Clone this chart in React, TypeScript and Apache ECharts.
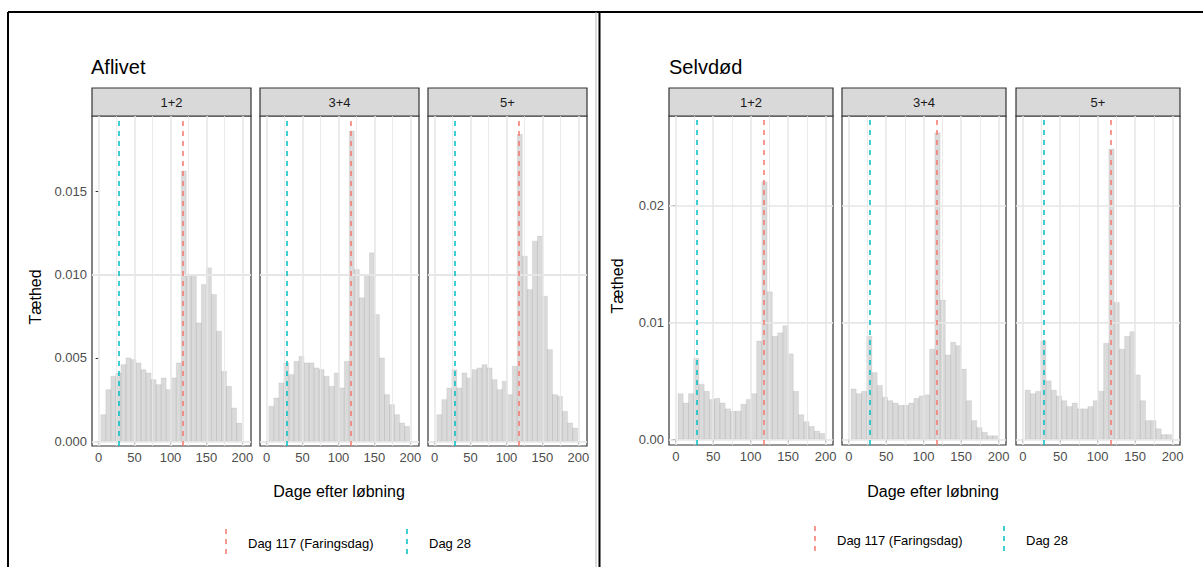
import { useRef, useEffect } from 'react'
import * as echarts from 'echarts'

// ── data ─────────────────────────────────────────
const BIN_START = 3
const BIN_WIDTH = 7
const FACETS = ['1+2', '3+4', '5+']

const aflivet12 = [0.0016, 0.0031, 0.0039, 0.0041, 0.0046, 0.0050, 0.0049, 0.0047, 0.0043, 0.0041, 0.0037, 0.0034, 0.0038, 0.0031, 0.0038, 0.0047, 0.0162, 0.0100, 0.0100, 0.0071, 0.0094, 0.0104, 0.0088, 0.0066, 0.0042, 0.0033, 0.0020, 0.0011]
const aflivet34 = [0.0021, 0.0026, 0.0035, 0.0047, 0.0040, 0.0048, 0.0051, 0.0047, 0.0047, 0.0044, 0.0043, 0.0039, 0.0033, 0.0041, 0.0032, 0.0048, 0.0186, 0.0103, 0.0086, 0.0100, 0.0113, 0.0076, 0.0050, 0.0028, 0.0022, 0.0016, 0.0011, 0.0009]
const aflivet5 = [0.0016, 0.0025, 0.0032, 0.0043, 0.0032, 0.0041, 0.0038, 0.0043, 0.0044, 0.0046, 0.0044, 0.0037, 0.0031, 0.0036, 0.0028, 0.0045, 0.0184, 0.0111, 0.0091, 0.0120, 0.0123, 0.0087, 0.0055, 0.0028, 0.0027, 0.0018, 0.0011, 0.0008]
const selvdod12 = [0.0039, 0.0031, 0.0039, 0.0069, 0.0047, 0.0041, 0.0034, 0.0035, 0.0031, 0.0026, 0.0024, 0.0024, 0.0030, 0.0034, 0.0039, 0.0084, 0.0220, 0.0126, 0.0088, 0.0091, 0.0097, 0.0073, 0.0041, 0.0021, 0.0015, 0.0011, 0.0007, 0.0005]
const selvdod34 = [0.0043, 0.0039, 0.0041, 0.0088, 0.0057, 0.0046, 0.0036, 0.0033, 0.0031, 0.0029, 0.0029, 0.0031, 0.0035, 0.0037, 0.0038, 0.0077, 0.0262, 0.0119, 0.0072, 0.0083, 0.0080, 0.0060, 0.0033, 0.0016, 0.0010, 0.0006, 0.0003, 0.0003]
const selvdod5 = [0.0042, 0.0039, 0.0041, 0.0084, 0.0050, 0.0042, 0.0037, 0.0033, 0.0028, 0.0031, 0.0026, 0.0026, 0.0028, 0.0033, 0.0041, 0.0082, 0.0248, 0.0117, 0.0077, 0.0088, 0.0092, 0.0055, 0.0033, 0.0016, 0.0016, 0.0009, 0.0004, 0.0004]

const xTicks = [0, 50, 100, 150, 200]
const xMinor = [25, 75, 125, 175]
const aflivetYTicks = [0, 0.005, 0.01, 0.015]
const aflivetYMinor = [0.0025, 0.0075, 0.0125, 0.0175]
const selvdodYTicks = [0, 0.01, 0.02]
const selvdodYMinor = [0.005, 0.015, 0.025]

const DAY_FARING = 117
const DAY_28 = 28

const RED = '#F8766D'
const CYAN = '#00BFC4'

// ── layout per half ──────────────────────────────
const PANELS = [
  {
    title: 'Aflivet', titleX: 91,
    lefts: [92, 260, 428], width: 159, top: 116, height: 330,
    xMin: -9.2, xMax: 212, yMin: -0.00028, yMax: 0.0195,
    series: [aflivet12, aflivet34, aflivet5],
    yTicks: aflivetYTicks, yMinor: aflivetYMinor, decimals: 3,
    yTitleX: 35, yTitleY: 297, xTitleX: 339, legendY: 543, legendRed: 226, legendCyan: 407,
  },
  {
    title: 'Selvdød', titleX: 669,
    lefts: [669, 842, 1016], width: 164, top: 116, height: 329,
    xMin: -9, xMax: 210, yMin: -0.00049, yMax: 0.02763,
    series: [selvdod12, selvdod34, selvdod5],
    yTicks: selvdodYTicks, yMinor: selvdodYMinor, decimals: 2,
    yTitleX: 617, yTitleY: 286, xTitleX: 933, legendY: 540, legendRed: 815, legendCyan: 1004,
  },
]

const FONT = 'Liberation Sans, Arial, sans-serif'

function buildOption() {
  const grid: any[] = []
  const xAxis: any[] = []
  const yAxis: any[] = []
  const series: any[] = []
  const graphic: any[] = []

  // page borders
  graphic.push(
    { type: 'line', shape: { x1: 8, y1: 12, x2: 1203, y2: 12 }, style: { stroke: '#000', lineWidth: 2 } },
    { type: 'line', shape: { x1: 8, y1: 12, x2: 8, y2: 567 }, style: { stroke: '#000', lineWidth: 2 } },
    { type: 'line', shape: { x1: 596, y1: 12, x2: 596, y2: 567 }, style: { stroke: '#bbb', lineWidth: 1 } },
    { type: 'line', shape: { x1: 599.5, y1: 12, x2: 599.5, y2: 567 }, style: { stroke: '#000', lineWidth: 2 } },
  )

  PANELS.forEach((p) => {
    graphic.push({ type: 'text', x: p.titleX, y: 57, style: { text: p.title, font: `20px ${FONT}`, fill: '#000' } })
    graphic.push({
      type: 'text', x: p.yTitleX, y: p.yTitleY, rotation: Math.PI / 2,
      style: { text: 'Tæthed', font: `16px ${FONT}`, fill: '#000', align: 'center', verticalAlign: 'middle' },
    })
    graphic.push({
      type: 'text', x: p.xTitleX, y: 491,
      style: { text: 'Dage efter løbning', font: `16px ${FONT}`, fill: '#000', align: 'center', verticalAlign: 'middle' },
    })
    // legend
    const ly = p.legendY
    graphic.push(
      { type: 'line', shape: { x1: p.legendRed, y1: ly - 14, x2: p.legendRed, y2: ly + 14 }, style: { stroke: RED, lineWidth: 1.5, lineDash: [5, 5] } },
      { type: 'text', x: p.legendRed + 22, y: ly, style: { text: 'Dag 117 (Faringsdag)', font: `13px ${FONT}`, fill: '#000', verticalAlign: 'middle' } },
      { type: 'line', shape: { x1: p.legendCyan, y1: ly - 14, x2: p.legendCyan, y2: ly + 14 }, style: { stroke: CYAN, lineWidth: 1.5, lineDash: [5, 5] } },
      { type: 'text', x: p.legendCyan + 22, y: ly, style: { text: 'Dag 28', font: `13px ${FONT}`, fill: '#000', verticalAlign: 'middle' } },
    )

    p.lefts.forEach((left, fi) => {
      const gi = grid.length
      grid.push({ left, top: p.top, width: p.width, height: p.height, show: true, borderColor: '#333', borderWidth: 1.2, backgroundColor: '#fff' })
      // strip
      graphic.push({
        type: 'rect', shape: { x: left, y: 88, width: p.width, height: p.top - 88 },
        style: { fill: '#D9D9D9', stroke: '#333', lineWidth: 1.2 },
      })
      graphic.push({
        type: 'text', x: left + p.width / 2, y: 88 + (p.top - 88) / 2,
        style: { text: FACETS[fi], font: `13px ${FONT}`, fill: '#1a1a1a', align: 'center', verticalAlign: 'middle' },
      })

      xAxis.push({
        type: 'value', gridIndex: gi, min: p.xMin, max: p.xMax,
        axisLine: { show: false },
        splitLine: { show: false },
        axisTick: { show: true, customValues: xTicks, length: 3, lineStyle: { color: '#333' } },
        axisLabel: { show: true, customValues: xTicks, color: '#4d4d4d', fontSize: 13, fontFamily: FONT, margin: 5 },
      })
      yAxis.push({
        type: 'value', gridIndex: gi, min: p.yMin, max: p.yMax,
        axisLine: { show: false },
        splitLine: { show: false },
        axisTick: { show: fi === 0, customValues: p.yTicks, length: 3, lineStyle: { color: '#333' } },
        axisLabel: {
          show: fi === 0, customValues: p.yTicks, color: '#4d4d4d', fontSize: 13, fontFamily: FONT, margin: 5,
          formatter: (v: number) => v.toFixed(p.decimals),
        },
      })

      const gridLines = (w: number) => ({ lineStyle: { color: '#E6E6E6', width: w, type: 'solid' } })
      // grid lines (behind)
      series.push({
        type: 'custom', xAxisIndex: gi, yAxisIndex: gi, z: 1, silent: true,
        data: [[0, 0]], renderItem: () => null,
        markLine: {
          silent: true, symbol: 'none', label: { show: false }, animation: false,
          data: [
            ...xTicks.map((v) => ({ xAxis: v, ...gridLines(1.5) })),
            ...xMinor.map((v) => ({ xAxis: v, ...gridLines(0.8) })),
            ...p.yTicks.map((v) => ({ yAxis: v, ...gridLines(1.5) })),
            ...p.yMinor.map((v) => ({ yAxis: v, ...gridLines(0.8) })),
          ],
        },
      })
      // histogram bars
      const bins = p.series[fi].map((v, i) => [BIN_START + i * BIN_WIDTH, BIN_START + (i + 1) * BIN_WIDTH, v])
      series.push({
        type: 'custom', xAxisIndex: gi, yAxisIndex: gi, z: 2, silent: true,
        data: bins,
        renderItem: (params: any, api: any) => {
          const a = api.coord([api.value(0), api.value(2)])
          const b = api.coord([api.value(1), 0])
          return {
            type: 'rect',
            shape: { x: a[0], y: a[1], width: b[0] - a[0], height: b[1] - a[1] },
            style: { fill: 'rgba(140,140,140,0.32)', stroke: 'rgba(110,110,110,0.18)', lineWidth: 0.6 },
          }
        },
      })
      // reference lines
      series.push({
        type: 'custom', xAxisIndex: gi, yAxisIndex: gi, z: 3, silent: true,
        data: [[0, 0]], renderItem: () => null,
        markLine: {
          silent: true, symbol: 'none', label: { show: false }, animation: false,
          data: [
            { xAxis: DAY_FARING, lineStyle: { color: RED, width: 1.5, type: [5, 5] } },
            { xAxis: DAY_28, lineStyle: { color: CYAN, width: 1.5, type: [5, 5] } },
          ],
        },
      })
    })
  })

  return { animation: false, backgroundColor: '#fff', grid, xAxis, yAxis, series, graphic }
}

export default function App() {
  const ref = useRef<HTMLDivElement>(null)

  useEffect(() => {
    if (!ref.current) return
    const chart = echarts.init(ref.current, null, { renderer: 'svg' })
    chart.setOption(buildOption())
    return () => chart.dispose()
  }, [])

  return <div ref={ref} style={{ position: 'fixed', left: 0, top: 0, width: 1203, height: 567 }} />
}
